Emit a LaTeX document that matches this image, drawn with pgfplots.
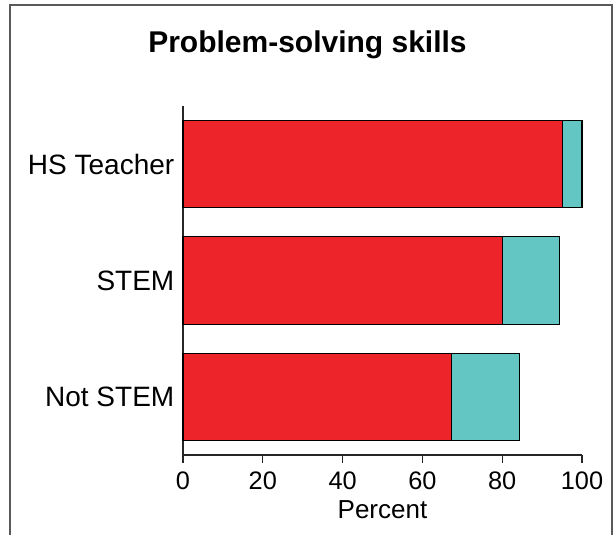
\documentclass[border=0pt]{standalone}
\usepackage{pgfplots}
\pgfplotsset{compat=1.18}
\usepackage{fontspec}
\setmainfont{Liberation Sans}
\definecolor{barred}{HTML}{EE242B}
\definecolor{barcyan}{HTML}{63C6C3}
\begin{document}
\begin{tikzpicture}
\useasboundingbox (0,0) rectangle (461.25pt,-401.25pt);
\draw[gray!70!black, line width=0.8pt] (7.5pt,-402pt) -- (7.5pt,-3.75pt) -- (459pt,-3.75pt) -- (459pt,-402pt);
\node[font=\bfseries\fontsize{22.5}{26}\selectfont] at (230.6pt,-33.75pt) {Problem-solving skills};
\begin{axis}[
  at={(137.25pt,-341.25pt)}, anchor=south west,
  scale only axis, width=299.25pt, height=261.75pt,
  xbar stacked, bar width=0.75,
  xmin=0, xmax=100, ymin=-0.5, ymax=2.5,
  axis x line*=bottom, axis y line*=left,
  axis line style={line width=0.9pt, black!85},
  xtick={0,20,40,60,80,100},
  ytick={0,1,2}, yticklabels={Not STEM, STEM, HS Teacher},
  major tick length=6pt, tick align=outside,
  xtick style={line width=0.9pt, black!85},
  ytick style={draw=none},
  xticklabel style={font=\fontsize{19}{22}\selectfont, yshift=-3pt},
  yticklabel style={font=\fontsize{21}{24}\selectfont, xshift=3pt},
  /pgf/number format/assume math mode=true,
  xlabel={Percent}, xlabel style={font=\fontsize{19.5}{22}\selectfont, yshift=-1pt},
  clip=false,
]
\addplot[fill=barred, draw=black, line width=0.8pt] coordinates {(67.3,0) (80,1) (95,2)};
\addplot[fill=barcyan, draw=black, line width=0.8pt] coordinates {(17,0) (14.3,1) (5,2)};
\end{axis}
\end{tikzpicture}
\end{document}
